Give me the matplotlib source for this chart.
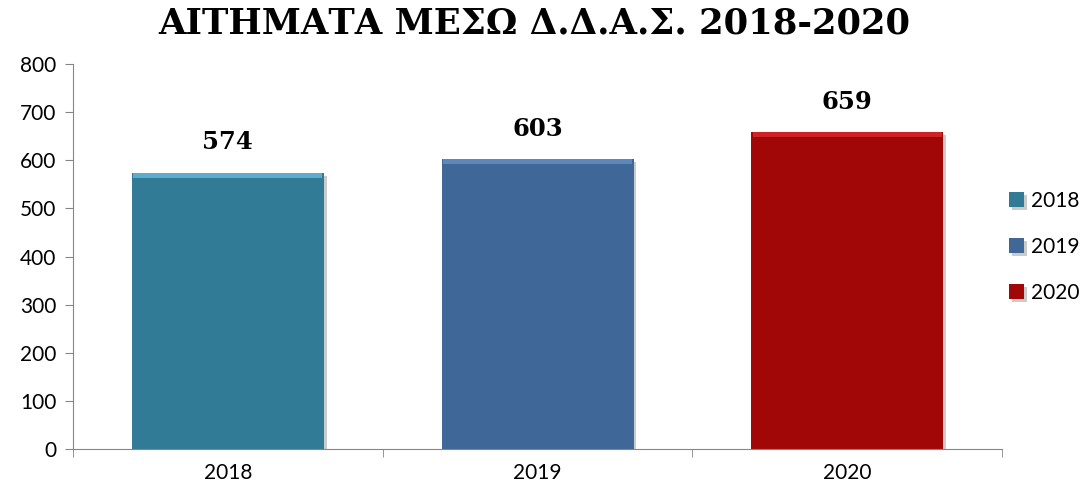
import numpy as np
import matplotlib
matplotlib.use("Agg")
import matplotlib.pyplot as plt
import matplotlib.patheffects as pe

# data
years = ["2018", "2019", "2020"]
requests = [574, 603, 659]
colors = ["#327B97", "#3F6797", "#A10707"]
tops = ["#6EC3E3", "#6A97CF", "#E03030"]

plt.rcParams['font.family'] = ['Lato', 'DejaVu Sans']

fig = plt.figure(figsize=(10.86, 4.92), dpi=100)
ax = fig.add_axes([0.0672, 0.0874, 0.8555, 0.7825])

x = np.arange(len(years))
bars = ax.bar(x, requests, width=0.62, color=colors, label=years, zorder=2,
              path_effects=[pe.SimplePatchShadow(offset=(2, -2), shadow_rgbFace="#999999", alpha=0.5),
                            pe.Normal()])

# bevel highlight on top of each bar
for b, c in zip(bars, tops):
    ax.bar(b.get_x() + b.get_width() / 2, 10, width=b.get_width() * 0.985,
           bottom=b.get_height() - 10, color=c, alpha=0.7, zorder=3)

for xi, v in zip(x, requests):
    ax.text(xi, v + 38, str(v), ha="center", va="bottom", fontsize=17.5,
            fontweight="bold", family="DejaVu Serif")

ax.set_xlim(-0.5, 2.5)
ax.set_ylim(0, 800)
ax.set_yticks(range(0, 801, 100))
ax.set_xticks(x)
ax.set_xticklabels(years)
ax.set_xticks([-0.5, 0.5, 1.5, 2.5], minor=True)
ax.tick_params(axis="x", which="major", length=0, labelsize=15, pad=10)
ax.tick_params(axis="x", which="minor", length=6, color="#868686")
ax.tick_params(axis="y", length=6, color="#868686", labelsize=15, pad=6)

for s in ["top", "right"]:
    ax.spines[s].set_visible(False)
ax.spines["left"].set_color("#868686")
ax.spines["bottom"].set_color("#868686")

fig.text(0.492, 0.952, "ΑΙΤΗΜΑΤΑ ΜΕΣΩ Δ.Δ.Α.Σ. 2018-2020", ha="center", va="center",
         fontsize=25.5, fontweight="bold", family="DejaVu Serif")

ax.legend(handles=bars, labels=years, loc="center left", bbox_to_anchor=(1.008, 0.525),
          frameon=False, fontsize=15, handlelength=0.7, handleheight=0.7,
          handletextpad=0.35, labelspacing=1.25, borderaxespad=0, borderpad=0)

fig.savefig("out.png", dpi=100)
